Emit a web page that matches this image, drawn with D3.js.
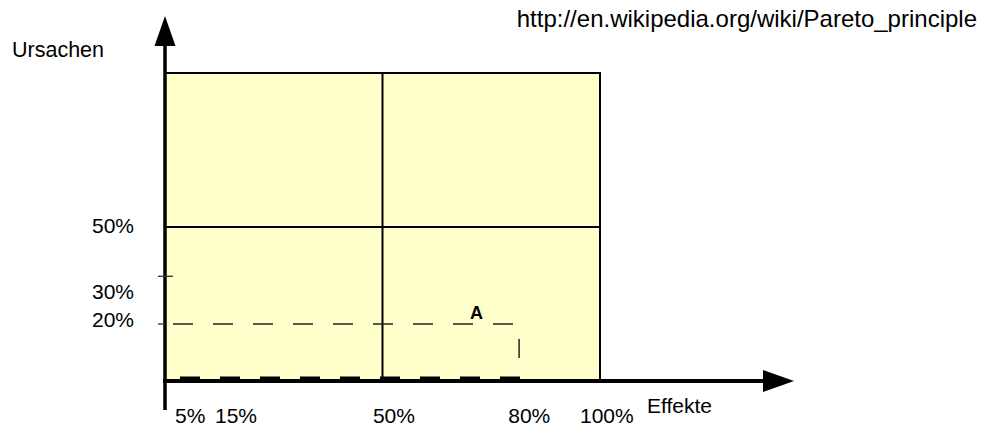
<!DOCTYPE html>
<html>
<head>
<meta charset="utf-8">
<script src="https://cdn.jsdelivr.net/npm/d3@7"></script>
<style>
  html, body { margin: 0; padding: 0; background: #fff; }
  svg { display: block; }
  text { font-family: "Liberation Sans", Arial, sans-serif; fill: #000; }
</style>
</head>
<body>
<svg id="chart" width="982" height="429"></svg>
<script>
// ---- data (values as drawn in the reference, in percent of each axis) ----
const xLabels = ["5%", "15%", "50%", "80%", "100%"];
const xLabelAt = [2.3, 11.5, 47.8, 78.9, 95.4];       // left edge of each label
const yLabels = ["50%", "30%", "20%"];
const yLabelAt = [48, 26.5, 17.4];                   // baseline of each label
const yTickAt = [34, 18.5];                          // short tick marks on the y axis
const gridX = [50];                                  // inner vertical divider
const gridY = [50];                                  // inner horizontal divider
const pointA = { effect: 80, cause: 18.5, label: "A" };
const markerX = 81.4;                                // short vertical dash near A
const baseLineEnd = 81.6;                            // bottom dashed line end
const axisTitleX = "Effekte";
const axisTitleY = "Ursachen";
const source = "http://en.wikipedia.org/wiki/Pareto_principle";

// ---- scales ----
const svg = d3.select("#chart");
const x = d3.scaleLinear().domain([0, 100]).range([165, 600]);
const y = d3.scaleLinear().domain([0, 100]).range([381, 73]);

// background square
svg.append("rect")
  .attr("x", x(0)).attr("y", y(100))
  .attr("width", x(100) - x(0)).attr("height", y(0) - y(100))
  .attr("fill", "#FFFFCC").attr("stroke", "#000").attr("stroke-width", 2);

// dividers
svg.selectAll("line.gx").data(gridX).join("line")
  .attr("x1", d => x(d)).attr("x2", d => x(d))
  .attr("y1", y(100)).attr("y2", y(0))
  .attr("stroke", "#000").attr("stroke-width", 2);
svg.selectAll("line.gy").data(gridY).join("line")
  .attr("x1", x(0)).attr("x2", x(100))
  .attr("y1", d => y(d)).attr("y2", d => y(d))
  .attr("stroke", "#000").attr("stroke-width", 2);

// dashed guide to A
svg.append("line")
  .attr("x1", x(0)).attr("x2", x(pointA.effect))
  .attr("y1", y(pointA.cause)).attr("y2", y(pointA.cause))
  .attr("stroke", "#222").attr("stroke-width", 1.5)
  .attr("stroke-dasharray", "20,20").attr("stroke-dashoffset", 32);
svg.append("line")
  .attr("x1", x(markerX)).attr("x2", x(markerX))
  .attr("y1", y(pointA.cause)).attr("y2", y(0))
  .attr("stroke", "#222").attr("stroke-width", 1.5)
  .attr("stroke-dasharray", "19,40").attr("stroke-dashoffset", -15);
// thick dashes along the bottom
svg.append("line")
  .attr("x1", x(0)).attr("x2", x(baseLineEnd))
  .attr("y1", y(0) - 3).attr("y2", y(0) - 3)
  .attr("stroke", "#000").attr("stroke-width", 3)
  .attr("stroke-dasharray", "20,20").attr("stroke-dashoffset", 25);

svg.append("text")
  .attr("x", x(pointA.effect) - 43).attr("y", y(pointA.cause) - 5)
  .attr("font-size", 18).attr("font-weight", "bold")
  .text(pointA.label);

// y axis with arrow
svg.append("line")
  .attr("x1", x(0)).attr("x2", x(0)).attr("y1", 410).attr("y2", 44)
  .attr("stroke", "#000").attr("stroke-width", 3.5);
svg.append("path")
  .attr("d", `M${x(0) - 10.5},46 L${x(0) + 10.5},46 L${x(0)},16 Z`)
  .attr("fill", "#000");
// x axis with arrow
svg.append("line")
  .attr("x1", x(0) - 2).attr("x2", 765).attr("y1", y(0)).attr("y2", y(0))
  .attr("stroke", "#000").attr("stroke-width", 4);
svg.append("path")
  .attr("d", `M763,${y(0) - 11} L763,${y(0) + 11} L794,${y(0)} Z`)
  .attr("fill", "#000");

// y ticks
svg.selectAll("line.yt").data(yTickAt).join("line")
  .attr("x1", x(0) - 7).attr("x2", (d, i) => i === 0 ? x(0) + 8 : x(0))
  .attr("y1", d => y(d)).attr("y2", d => y(d))
  .attr("stroke", "#333").attr("stroke-width", 1.3);

// y labels
svg.selectAll("text.yl").data(yLabels).join("text")
  .attr("x", 92).attr("y", (d, i) => y(yLabelAt[i]))
  .attr("font-size", 21).text(d => d);

// x labels
svg.selectAll("text.xl").data(xLabels).join("text")
  .attr("x", (d, i) => x(xLabelAt[i])).attr("y", 423)
  .attr("font-size", 21).text(d => d);

// titles
svg.append("text").attr("x", 647).attr("y", 413).attr("font-size", 21).text(axisTitleX);
svg.append("text").attr("x", 12).attr("y", 57).attr("font-size", 21.5).text(axisTitleY);
svg.append("text").attr("x", 977).attr("y", 27).attr("text-anchor", "end")
  .attr("font-size", 24).text(source);
</script>
</body>
</html>
